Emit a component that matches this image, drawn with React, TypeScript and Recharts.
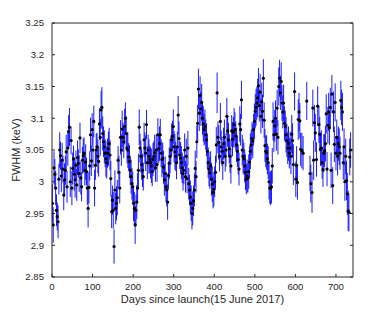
import { ScatterChart, Scatter, XAxis, YAxis, ErrorBar, Label } from 'recharts';

// days since launch for each measurement
const days = [
  1, 3, 5, 7, 9, 11, 13, 15, 17, 19,
  21, 23, 25, 27, 29, 31, 33, 35, 37, 39,
  41, 43, 45, 47, 49, 51, 53, 55, 57, 59,
  61, 63, 65, 67, 69, 71, 73, 75, 77, 79,
  81, 83, 85, 87, 89, 91, 93, 95, 97, 99,
  101, 103, 105, 107, 109, 111, 113, 115, 117, 119,
  121, 123, 125, 127, 129, 131, 133, 135, 137, 139,
  141, 143, 145, 147, 149, 151, 153, 155, 157, 159,
  161, 163, 165, 167, 169, 171, 173, 175, 177, 179,
  181, 183, 185, 187, 189, 191, 193, 195, 197, 199,
  201, 203, 205, 207, 209, 211, 213, 215, 217, 219,
  221, 223, 225, 227, 229, 231, 233, 235, 237, 239,
  241, 243, 245, 247, 249, 251, 253, 255, 257, 259,
  261, 263, 265, 267, 269, 271, 273, 275, 277, 279,
  281, 283, 285, 287, 289, 291, 293, 295, 297, 299,
  301, 303, 305, 307, 309, 311, 313, 315, 317, 319,
  321, 323, 325, 327, 329, 331, 333, 335, 337, 339,
  341, 343, 345, 347, 349, 351, 353, 355, 357, 359,
  361, 363, 365, 367, 369, 371, 373, 375, 377, 379,
  381, 383, 385, 387, 389, 391, 393, 395, 397, 399,
  401, 403, 405, 407, 409, 411, 413, 415, 417, 419,
  421, 423, 425, 427, 429, 431, 433, 435, 437, 439,
  441, 443, 445, 447, 449, 451, 453, 455, 457, 459,
  461, 463, 465, 467, 469, 471, 473, 475, 477, 479,
  481, 483, 485, 487, 489, 491, 493, 495, 497, 499,
  501, 503, 505, 507, 509, 511, 513, 515, 517, 519,
  521, 523, 525, 527, 529, 531, 533, 535, 537, 539,
  541, 543, 545, 547, 549, 551, 553, 555, 557, 559,
  561, 563, 565, 567, 569, 571, 573, 575, 577, 579,
  581, 583, 585, 587, 589, 591, 593, 595, 598, 601,
  603, 605, 607, 609, 611, 613, 616, 619, 628, 636,
  638, 641, 643, 645, 647, 649, 652, 655, 658, 660,
  662, 664, 666, 668, 670, 672, 674, 676, 678, 680,
  682, 684, 686, 688, 690, 692, 694, 696, 698, 700,
  702, 704, 706, 708, 710, 712, 714, 716, 718, 720,
  722, 724, 726, 728, 730, 732, 734, 736,
];

// FWHM in keV
const fwhm = [
  2.966, 2.932, 3.022, 3.012, 2.99, 2.955, 2.945, 2.937, 3.004, 3.05,
  3.041, 3.009, 3.034, 3.02, 2.979, 3.003, 3.018, 3.047, 2.992, 3.053,
  3.079, 3.086, 3.0, 3.065, 2.99, 3.021, 3.036, 3.012, 3.003, 3.026,
  2.995, 3.038, 3.029, 3.013, 3.069, 3.006, 2.992, 3.034, 3.041, 3.045,
  3.018, 3.031, 3.016, 2.99, 2.958, 2.991, 3.025, 3.074, 3.033, 3.082,
  3.05, 3.095, 2.99, 3.026, 3.05, 3.055, 3.04, 3.032, 3.091, 3.07,
  3.113, 3.117, 3.076, 3.063, 3.055, 3.045, 3.036, 3.03, 3.045, 3.052,
  3.06, 3.042, 3.005, 2.953, 2.971, 2.955, 2.898, 2.987, 2.958, 2.966,
  2.975, 3.034, 3.015, 2.99, 3.07, 3.05, 3.083, 3.07, 3.063, 3.087,
  3.1, 3.076, 3.053, 3.05, 3.039, 3.032, 3.018, 3.008, 2.997, 2.992,
  2.966, 2.958, 2.932, 2.955, 2.968, 2.99, 3.018, 3.086, 3.053, 3.04,
  3.027, 3.018, 3.008, 3.066, 3.053, 3.045, 3.09, 3.03, 3.05, 3.04,
  3.035, 3.03, 3.025, 3.016, 3.035, 3.04, 3.046, 3.022, 3.05, 3.027,
  3.074, 3.052, 3.06, 3.074, 3.045, 3.035, 3.037, 3.023, 3.003, 3.013,
  2.992, 2.987, 2.968, 3.01, 3.029, 3.04, 3.05, 3.066, 3.072, 3.087,
  3.055, 3.047, 3.04, 3.03, 3.055, 3.105, 3.068, 3.042, 3.037, 3.03,
  3.022, 3.013, 3.018, 3.05, 3.008, 3.04, 3.005, 3.053, 2.997, 2.987,
  2.976, 2.966, 2.95, 2.958, 2.97, 2.987, 3.021, 3.008, 3.063, 3.092,
  3.146, 3.108, 3.136, 3.115, 3.125, 3.1, 3.091, 3.082, 3.087, 3.074,
  3.066, 3.048, 3.03, 3.02, 3.014, 3.025, 3.004, 2.996, 2.983, 2.988,
  3.0, 3.015, 3.058, 3.14, 3.07, 3.062, 3.04, 3.095, 3.055, 3.048,
  3.03, 3.06, 3.07, 3.04, 3.05, 3.103, 3.08, 3.066, 3.052, 3.04,
  3.025, 3.08, 3.067, 3.078, 3.09, 3.082, 3.072, 3.058, 3.048, 3.035,
  3.02, 3.091, 3.082, 3.129, 3.05, 3.04, 3.036, 3.025, 3.015, 3.004,
  3.009, 3.006, 3.016, 3.031, 3.048, 3.058, 3.068, 3.064, 3.082, 3.095,
  3.111, 3.117, 3.124, 3.132, 3.151, 3.12, 3.141, 3.103, 3.126, 3.111,
  3.163, 3.097, 3.057, 3.048, 3.046, 3.036, 3.03, 3.0, 2.99, 2.99,
  2.992, 3.025, 3.095, 3.074, 3.088, 3.1, 3.075, 3.116, 3.07, 3.15,
  3.163, 3.14, 3.158, 3.124, 3.11, 3.124, 3.092, 3.087, 3.074, 3.065,
  3.053, 3.06, 3.045, 3.053, 3.04, 3.075, 3.065, 3.027, 3.142, 3.004,
  3.026, 2.999, 3.098, 3.11, 3.096, 3.051, 3.049, 3.045, 3.127, 3.013,
  2.997, 2.983, 3.116, 3.034, 3.093, 3.077, 3.035, 3.119, 3.09, 3.075,
  3.051, 3.053, 3.03, 3.019, 3.045, 3.049, 3.06, 3.107, 3.02, 3.089,
  3.11, 3.085, 3.117, 3.018, 3.138, 2.994, 3.11, 3.059, 3.125, 3.045,
  3.07, 3.04, 3.06, 3.055, 3.045, 3.128, 3.117, 3.11, 3.03, 3.055,
  3.0, 3.04, 3.002, 2.981, 2.954, 2.952, 3.039, 3.05,
];

// 1-sigma uncertainty on FWHM (keV)
const errs = [
  0.030, 0.028, 0.026, 0.024, 0.027, 0.025, 0.022, 0.026, 0.024, 0.028,
  0.022, 0.025, 0.027, 0.021, 0.024, 0.026, 0.023, 0.027, 0.025, 0.028,
  0.026, 0.030, 0.024, 0.022, 0.027, 0.025, 0.021, 0.026, 0.028, 0.023,
  0.025, 0.027, 0.022, 0.029, 0.024, 0.026, 0.023, 0.021, 0.027, 0.025,
  0.024, 0.028, 0.022, 0.026, 0.030, 0.025, 0.023, 0.027, 0.024, 0.026,
  0.028, 0.025, 0.029, 0.023, 0.026, 0.022, 0.027, 0.024, 0.025, 0.029,
  0.030, 0.032, 0.027, 0.024, 0.026, 0.022, 0.028, 0.025, 0.023, 0.027,
  0.025, 0.024, 0.028, 0.026, 0.023, 0.029, 0.027, 0.031, 0.025, 0.027,
  0.028, 0.022, 0.026, 0.024, 0.027, 0.025, 0.029, 0.023, 0.026, 0.028,
  0.025, 0.027, 0.024, 0.028, 0.022, 0.026, 0.023, 0.027, 0.025, 0.024,
  0.028, 0.026, 0.030, 0.025, 0.027, 0.024, 0.026, 0.028, 0.023, 0.025,
  0.024, 0.026, 0.022, 0.027, 0.025, 0.028, 0.023, 0.026, 0.024, 0.027,
  0.022, 0.025, 0.027, 0.023, 0.026, 0.024, 0.028, 0.022, 0.025, 0.027,
  0.026, 0.023, 0.027, 0.025, 0.022, 0.028, 0.024, 0.026, 0.025, 0.027,
  0.024, 0.026, 0.028, 0.022, 0.025, 0.027, 0.023, 0.026, 0.024, 0.027,
  0.025, 0.028, 0.023, 0.026, 0.024, 0.030, 0.027, 0.022, 0.025, 0.026,
  0.024, 0.027, 0.022, 0.026, 0.025, 0.028, 0.023, 0.027, 0.025, 0.024,
  0.026, 0.028, 0.025, 0.027, 0.024, 0.026, 0.028, 0.025, 0.026, 0.029,
  0.032, 0.028, 0.030, 0.027, 0.029, 0.026, 0.028, 0.025, 0.027, 0.024,
  0.026, 0.028, 0.024, 0.027, 0.025, 0.023, 0.026, 0.028, 0.025, 0.027,
  0.024, 0.026, 0.028, 0.032, 0.025, 0.027, 0.024, 0.029, 0.026, 0.023,
  0.027, 0.025, 0.028, 0.024, 0.026, 0.029, 0.025, 0.027, 0.023, 0.026,
  0.028, 0.025, 0.027, 0.024, 0.026, 0.028, 0.023, 0.027, 0.025, 0.024,
  0.026, 0.028, 0.025, 0.030, 0.024, 0.027, 0.025, 0.026, 0.028, 0.024,
  0.026, 0.023, 0.027, 0.025, 0.028, 0.024, 0.026, 0.027, 0.025, 0.028,
  0.027, 0.029, 0.026, 0.030, 0.028, 0.025, 0.029, 0.027, 0.030, 0.026,
  0.030, 0.028, 0.026, 0.025, 0.027, 0.024, 0.026, 0.028, 0.025, 0.027,
  0.026, 0.028, 0.030, 0.027, 0.025, 0.028, 0.026, 0.029, 0.027, 0.030,
  0.029, 0.027, 0.030, 0.028, 0.026, 0.029, 0.027, 0.025, 0.028, 0.026,
  0.025, 0.027, 0.024, 0.026, 0.028, 0.030, 0.027, 0.032, 0.030, 0.028,
  0.030, 0.027, 0.032, 0.030, 0.028, 0.026, 0.028, 0.027, 0.030, 0.028,
  0.030, 0.032, 0.029, 0.031, 0.028, 0.030, 0.027, 0.031, 0.029, 0.027,
  0.026, 0.028, 0.025, 0.027, 0.030, 0.026, 0.028, 0.031, 0.027, 0.029,
  0.030, 0.027, 0.031, 0.028, 0.030, 0.029, 0.032, 0.028, 0.030, 0.027,
  0.028, 0.030, 0.027, 0.029, 0.026, 0.031, 0.028, 0.030, 0.027, 0.029,
  0.030, 0.028, 0.031, 0.033, 0.032, 0.030, 0.029, 0.028,
];

const xTicks = [0, 100, 200, 300, 400, 500, 600, 700];
const yTicks = [2.85, 2.9, 2.95, 3, 3.05, 3.1, 3.15, 3.2, 3.25];

const data = days.map((d, i) => ({ day: d, fwhm: fwhm[i], err: errs[i] }));

const FONT = '"Liberation Sans", Arial, Helvetica, sans-serif';
const AXIS = '#262626';
const tickStyle = { fontSize: 9.6, fill: AXIS, fontFamily: FONT };

const fmtY = (v: number) => String(Number(v.toFixed(2)));
const blank = () => '';

const Dot = (props: any) => <circle cx={props.cx} cy={props.cy} r={1.6} fill="#000" />;

const App = () => {
  return (
    <div style={{ position: 'absolute', left: 0, top: 0, background: '#fff' }}>
      <ScatterChart width={390} height={312} margin={{ top: 22, right: 36, bottom: 0, left: 0 }}>
        <XAxis
          xAxisId="bottom"
          type="number"
          dataKey="day"
          domain={[0, 742]}
          ticks={xTicks}
          allowDataOverflow
          height={35}
          stroke={AXIS}
          tickSize={-3}
          tickMargin={9}
          tick={tickStyle}
        >
          <Label
            value="Days since launch(15 June 2017)"
            position="insideBottom"
            offset={9}
            style={{ fontSize: 11, fill: AXIS, fontFamily: FONT }}
          />
        </XAxis>
        <XAxis
          xAxisId="top"
          orientation="top"
          type="number"
          domain={[0, 742]}
          ticks={xTicks}
          allowDataOverflow
          height={1}
          stroke={AXIS}
          tickSize={-3}
          tickFormatter={blank}
        />
        <YAxis
          yAxisId="left"
          type="number"
          dataKey="fwhm"
          domain={[2.85, 3.25]}
          ticks={yTicks}
          allowDataOverflow
          width={52}
          stroke={AXIS}
          tickSize={-3}
          tickMargin={11}
          tick={tickStyle}
          tickFormatter={fmtY}
        >
          <Label
            content={() => (
              <text
                transform="translate(19.5,150) rotate(-90)"
                textAnchor="middle"
                fontSize={11}
                fill={AXIS}
                fontFamily={FONT}
              >
                FWHM (keV)
              </text>
            )}
          />
        </YAxis>
        <YAxis
          yAxisId="right"
          orientation="right"
          type="number"
          domain={[2.85, 3.25]}
          ticks={yTicks}
          allowDataOverflow
          width={1}
          stroke={AXIS}
          tickSize={-3}
          tickFormatter={blank}
        />
        <Scatter
          data={data}
          dataKey="fwhm"
          xAxisId="bottom"
          yAxisId="left"
          shape={Dot}
          isAnimationActive={false}
        >
          <ErrorBar dataKey="err" direction="y" width={0} stroke="#0000ff" strokeOpacity={0.9} strokeWidth={1} />
        </Scatter>
      </ScatterChart>
    </div>
  );
};

export default App;
